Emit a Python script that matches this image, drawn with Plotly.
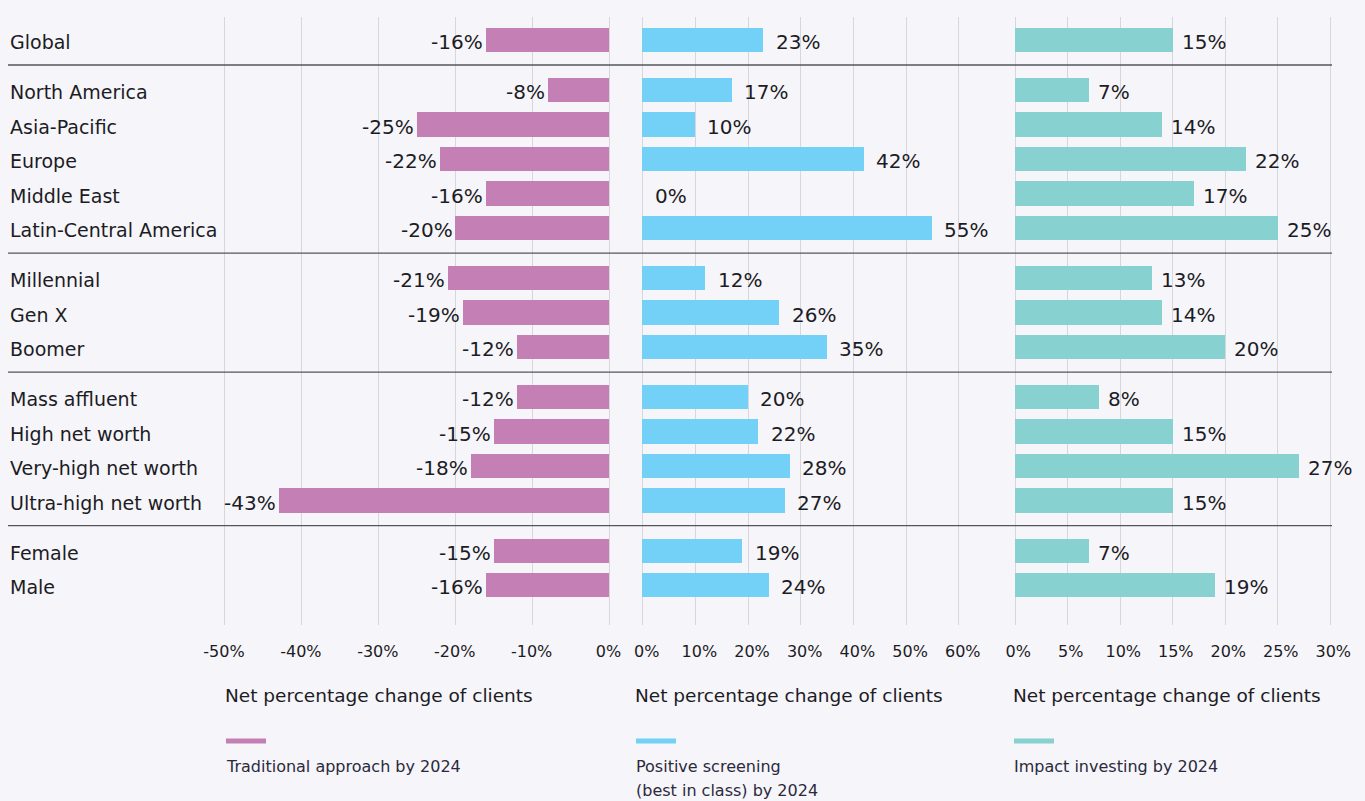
import plotly.graph_objects as go

categories = ["Global", "North America", "Asia-Pacific", "Europe", "Middle East",
              "Latin-Central America", "Millennial", "Gen X", "Boomer",
              "Mass affluent", "High net worth", "Very-high net worth",
              "Ultra-high net worth", "Female", "Male"]
groups = [0, 1, 1, 1, 1, 1, 2, 2, 2, 3, 3, 3, 3, 4, 4]
traditional = [-16, -8, -25, -22, -16, -20, -21, -19, -12, -12, -15, -18, -43, -15, -16]
positive = [23, 17, 10, 42, 0, 55, 12, 26, 35, 20, 22, 28, 27, 19, 24]
impact = [15, 7, 14, 22, 17, 25, 13, 14, 20, 8, 15, 27, 15, 7, 19]

ticks1 = [-50, -40, -30, -20, -10, 0]
ticks2 = [0, 10, 20, 30, 40, 50, 60]
ticks3 = [0, 5, 10, 15, 20, 25, 30]

series_names = [["Traditional approach by 2024"],
                ["Positive screening", "(best in class) by 2024"],
                ["Impact investing by 2024"]]
axis_title = "Net percentage change of clients"

COLORS = ["#c47fb4", "#73d0f6", "#87d2d0"]
BG = "#f6f5fa"
TXT = "#1c1c24"
FONT = "DejaVu Sans"
W, H = 1365, 801
MT, MB = 17, 176
PH = H - MT - MB


def py(px):
    return 1 - (px - MT) / PH


GAP = 0.45
pos = [i + g * GAP for i, g in enumerate(groups)]

fig = go.Figure()
axes = ["x", "x2", "x3"]
datas = [traditional, positive, impact]
for vals, ax, col in zip(datas, axes, COLORS):
    fig.add_trace(go.Bar(x=vals, y=pos, orientation="h", xaxis=ax, yaxis="y",
                         marker=dict(color=col, line=dict(width=0)),
                         width=0.7, hoverinfo="skip", showlegend=False))


def fmt(v):
    return ("-" if v < 0 else "") + f"{abs(v)}%"


annotations = []
shifts = [-1, 10, 7]
for vals, ax, sh in zip(datas, axes, shifts):
    for v, p in zip(vals, pos):
        annotations.append(dict(x=v, y=p, xref=ax, yref="y", text=fmt(v),
                                showarrow=False,
                                xanchor="right" if v < 0 else "left",
                                xshift=sh, yshift=-2,
                                font=dict(size=20, color=TXT, family=FONT)))

for c, p in zip(categories, pos):
    annotations.append(dict(x=8 / W, y=p, xref="paper", yref="y", text=c,
                            showarrow=False, xanchor="left", yshift=-2,
                            font=dict(size=19, color=TXT, family=FONT)))

title_x = [223, 633, 1011]
legend_y_line = 741
for tx, lines, col in zip(title_x, series_names, COLORS):
    annotations.append(dict(x=tx / W, y=py(695), xref="paper", yref="paper",
                            text=axis_title, showarrow=False, xanchor="left",
                            yanchor="middle",
                            font=dict(size=18.5, color=TXT, family=FONT)))
    for k, ln in enumerate(lines):
        annotations.append(dict(x=(tx + 1) / W, y=py(766 + 24 * k), xref="paper",
                                yref="paper", text=ln, showarrow=False,
                                xanchor="left", yanchor="middle", align="left",
                                font=dict(size=16, color="#2a2a3c", family=FONT)))

shapes = []
for tx, col in zip(title_x, COLORS):
    shapes.append(dict(type="line", xref="paper", yref="paper",
                       x0=(tx + 3) / W, x1=(tx + 43) / W,
                       y0=py(legend_y_line), y1=py(legend_y_line),
                       line=dict(color=col, width=5)))

for i in range(1, len(pos)):
    if groups[i] != groups[i - 1]:
        ymid = (pos[i] + pos[i - 1]) / 2
        shapes.append(dict(type="line", xref="paper", yref="y",
                           x0=8 / W, x1=1332 / W, y0=ymid, y1=ymid,
                           line=dict(color="#55555c", width=1.3), layer="above"))


def xax(domain_px, rng, tickvals, shift):
    return dict(domain=[domain_px[0] / W, domain_px[1] / W], range=rng,
                anchor="y", showgrid=True, gridcolor="#d6d6dc", gridwidth=1,
                zeroline=False, showline=False, tickvals=tickvals,
                ticktext=[fmt(t) for t in tickvals], ticks="",
                tickfont=dict(size=16, color=TXT, family=FONT),
                ticklabelstandoff=15, ticklabelshift=shift,
                fixedrange=True, automargin=False)


fig.update_layout(
    width=W, height=H, autosize=False,
    margin=dict(l=0, r=0, t=MT, b=MB, pad=0, autoexpand=False),
    paper_bgcolor=BG, plot_bgcolor=BG,
    barmode="overlay", bargap=0,
    xaxis=xax((217.3, 617.2), [-51, 1], ticks1, -1),
    xaxis2=xax((637.4, 964.0), [-1, 61], ticks2, 4),
    xaxis3=xax((1010.0, 1335.5), [-0.5, 30.5], ticks3, 3),
    yaxis=dict(domain=[0, 1], range=[16.957, -0.667], visible=False,
               fixedrange=True, automargin=False),
    annotations=annotations,
    shapes=shapes,
    font=dict(family=FONT, color=TXT),
)

fig.write_html("out.html", config={"responsive": False, "displayModeBar": False},
               post_script="document.body.style.margin='0';"
                           "document.body.style.background='" + BG + "';"
                           "document.body.style.overflow='hidden';")
